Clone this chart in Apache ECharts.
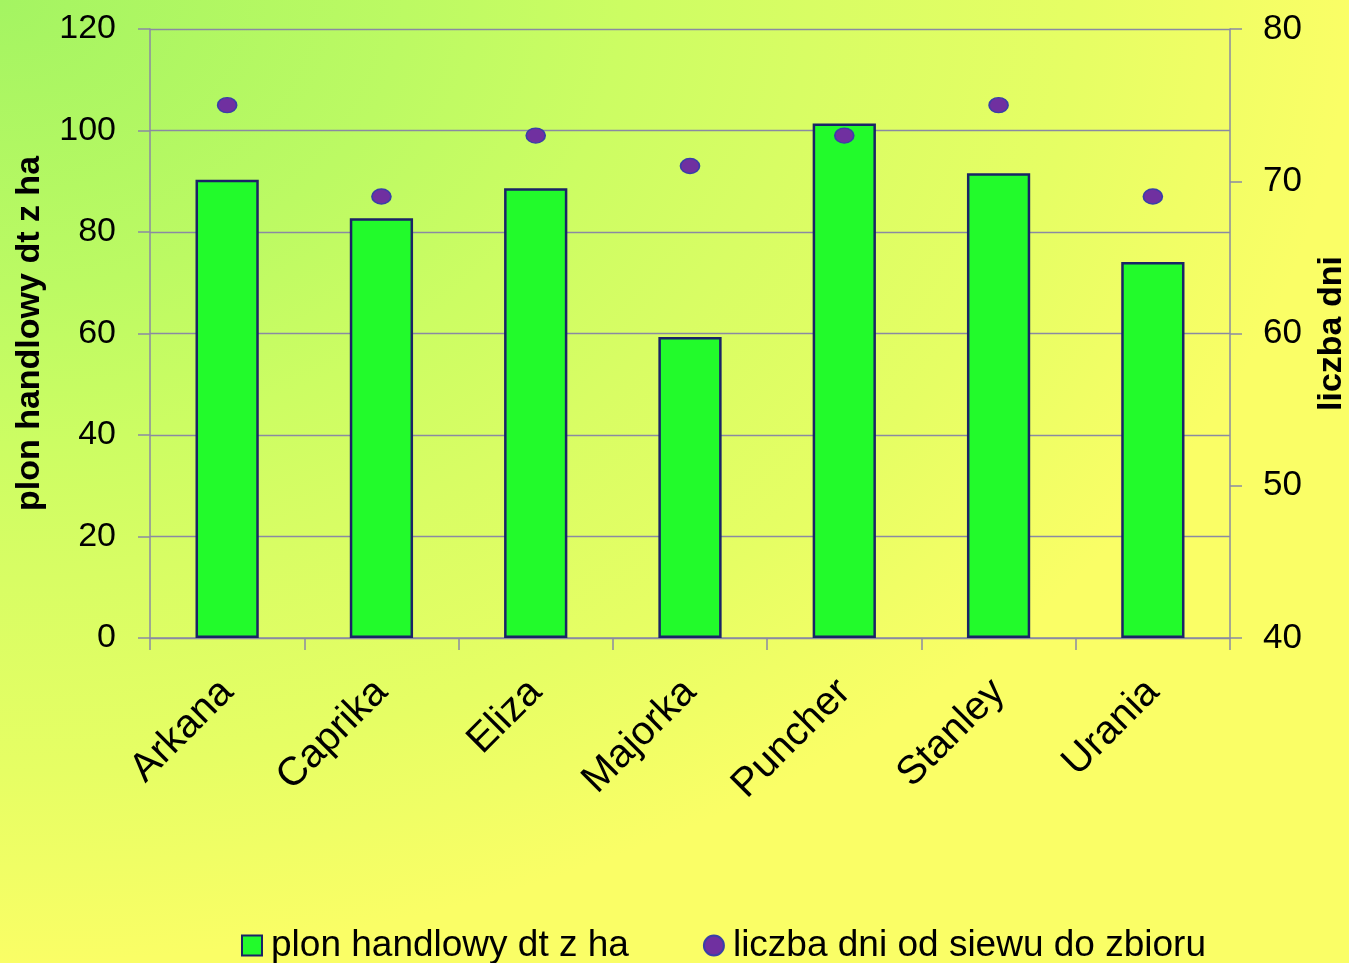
<!DOCTYPE html>
<html>
<head>
<meta charset="utf-8">
<script src="https://cdn.jsdelivr.net/npm/echarts@6/dist/echarts.min.js"></script>
<style>
  html, body { margin: 0; padding: 0; }
  #chart { width: 1349px; height: 963px; }
</style>
</head>
<body>
<div id="chart"></div>
<script>
// varieties and values
var odmiany = ['Arkana', 'Caprika', 'Eliza', 'Majorka', 'Puncher', 'Stanley', 'Urania'];
var plon = [90.3, 82.7, 88.6, 59.3, 101.4, 91.6, 74.1];
var dni = [75, 69, 73, 71, 73, 75, 69];

var myChart = echarts.init(document.getElementById('chart'));
var FONT = 'Liberation Sans';
var LINE = '#8a8aa2';

var option = {
    animation: false,
    textStyle: {fontFamily: FONT},
    // green-to-yellow background, elliptical from the top-left corner
    graphic: [{
        type: 'rect',
        x: 0, y: 0,
        scaleX: 1349 / 963,
        z: -100,
        silent: true,
        shape: {width: 963, height: 963},
        style: {
            fill: {
                type: 'radial',
                x: 0, y: 0, r: 1,
                colorStops: [
                    {offset: 0, color: '#a4f462'},
                    {offset: 0.3, color: '#bcfa63'},
                    {offset: 0.46, color: '#ccfd63'},
                    {offset: 0.6, color: '#d8fd64'},
                    {offset: 0.8, color: '#e6fe64'},
                    {offset: 1, color: '#fafe66'}
                ]
            }
        }
    }],
    grid: {left: 150, right: 119, top: 29, bottom: 325, outerBoundsMode: 'none', containLabel: false},
    legend: {
        top: 922,
        left: 236,
        itemGap: 74,
        itemWidth: 20,
        itemHeight: 20,
        textStyle: {fontSize: 37, color: '#000', fontFamily: FONT, padding: [0, 0, 0, 4]},
        data: [
            {name: 'plon handlowy dt z ha', icon: 'rect'},
            {name: 'liczba dni od siewu do zbioru', icon: 'circle'}
        ]
    },
    xAxis: {
        type: 'category',
        data: odmiany,
        axisLine: {lineStyle: {color: LINE, width: 1.5}},
        axisTick: {show: true, length: 12, lineStyle: {color: LINE, width: 1.5}},
        axisLabel: {rotate: 45, fontSize: 40, color: '#000', margin: 48, fontFamily: FONT}
    },
    yAxis: [
        {
            type: 'value',
            min: 0, max: 120, interval: 20,
            name: 'plon handlowy dt z ha',
            nameLocation: 'middle',
            nameGap: 103,
            nameRotate: 90,
            nameTextStyle: {fontSize: 34, fontWeight: 'bold', color: '#000', fontFamily: FONT},
            axisLine: {show: true, lineStyle: {color: LINE, width: 1.5}},
            axisTick: {show: true, length: 12, lineStyle: {color: LINE, width: 1.5}},
            axisLabel: {fontSize: 34, color: '#000', margin: 34, fontFamily: FONT},
            splitLine: {show: true, lineStyle: {color: LINE, width: 1.3}}
        },
        {
            type: 'value',
            min: 40, max: 80, interval: 10,
            position: 'right',
            name: 'liczba dni',
            nameLocation: 'middle',
            nameGap: 85,
            nameRotate: 90,
            nameTextStyle: {fontSize: 34, fontWeight: 'bold', color: '#000', fontFamily: FONT},
            axisLine: {show: true, lineStyle: {color: LINE, width: 1.5}},
            axisTick: {show: true, length: 12, lineStyle: {color: LINE, width: 1.5}},
            axisLabel: {fontSize: 35, color: '#000', margin: 33, fontFamily: FONT},
            splitLine: {show: false}
        }
    ],
    series: [
        {
            name: 'plon handlowy dt z ha',
            type: 'bar',
            yAxisIndex: 0,
            barWidth: '41%',
            itemStyle: {color: '#22fb2b', borderColor: '#1a2366', borderWidth: 2.5},
            data: plon
        },
        {
            name: 'liczba dni od siewu do zbioru',
            type: 'scatter',
            yAxisIndex: 1,
            symbol: 'circle',
            symbolSize: [19, 15],
            itemStyle: {color: '#7030a0', borderColor: '#3a3fa8', borderWidth: 1.5, opacity: 1},
            data: dni
        }
    ]
};

myChart.setOption(option);
</script>
</body>
</html>
